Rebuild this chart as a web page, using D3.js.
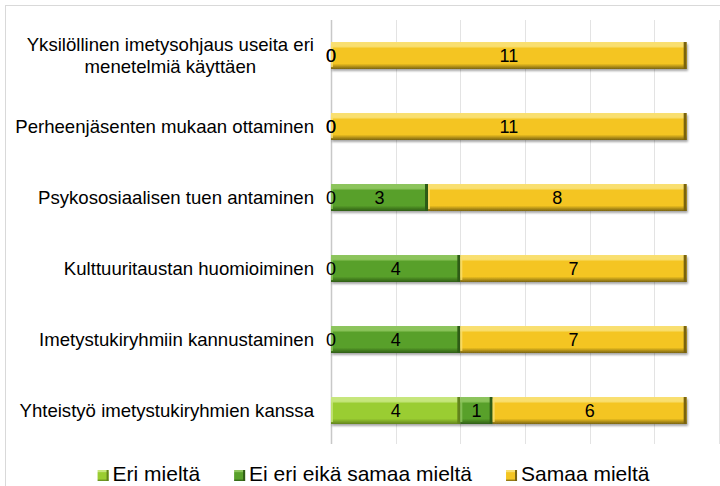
<!DOCTYPE html>
<html>
<head>
<meta charset="utf-8">
<script src="https://cdn.jsdelivr.net/npm/d3@7"></script>
<style>
  body { margin: 0; background: #fff; }
  svg { font-family: "Liberation Sans", Arial, sans-serif; }
</style>
</head>
<body>
<div id="chart"></div>
<script>
const width = 720,
   height = 486,
   margin = {top: 20, right: 1, bottom: 40, left: 331};

const categories = [
   'Yksilöllinen imetysohjaus useita eri\nmenetelmiä käyttäen',
   'Perheenjäsenten mukaan ottaminen',
   'Psykososiaalisen tuen antaminen',
   'Kulttuuritaustan huomioiminen',
   'Imetystukiryhmiin kannustaminen',
   'Yhteistyö imetystukiryhmien kanssa'
];
const seriesNames = ['Eri mieltä', 'Ei eri eikä samaa mieltä', 'Samaa mieltä'];
const eriMielta = [0, 0, 0, 0, 0, 4];
const eiEriEikaSamaa = [0, 0, 3, 4, 4, 1];
const samaaMielta = [11, 11, 8, 7, 7, 6];
const xTicks = [0, 2, 4, 6, 8, 10, 12];

// main, highlight, dark edge
const palette = [
   ['#9acd32', '#c6e67c', '#62841c'],
   ['#58a02a', '#8cc45c', '#2f5c14'],
   ['#f4c521', '#f9df70', '#7a6410']
];

const rows = categories.map((c, i) => ({cat: c, vals: [eriMielta[i], eiEriEikaSamaa[i], samaaMielta[i]]}));

const svg = d3.select('#chart').append('svg')
   .attr('width', width)
   .attr('height', height);

const defs = svg.append('defs');
palette.forEach((p, i) => {
   const g = defs.append('linearGradient')
      .attr('id', 'grad' + i)
      .attr('x1', 0).attr('x2', 0).attr('y1', 0).attr('y2', 1);
   [[0, p[1]], [0.16, p[1]], [0.24, p[0]], [0.8, p[0]], [1, p[2]]].forEach(s => {
      g.append('stop').attr('offset', s[0]).attr('stop-color', s[1]);
   });
});
defs.append('filter').attr('id', 'shadow')
   .attr('x', '-5%').attr('y', '-20%').attr('width', '110%').attr('height', '160%')
   .append('feDropShadow')
   .attr('dx', 1).attr('dy', 2).attr('stdDeviation', 1)
   .attr('flood-color', '#000').attr('flood-opacity', 0.35);

// outer chart border
svg.append('rect')
   .attr('x', 5.5).attr('y', 5.5)
   .attr('width', width + 20).attr('height', height + 20)
   .attr('fill', 'none')
   .attr('stroke', '#d9d9d9');

const x = d3.scaleLinear()
   .domain([0, 12])
   .range([margin.left, width - margin.right]);

const y = d3.scaleBand()
   .domain(categories)
   .range([margin.top, 446])
   .paddingInner(0.62)
   .paddingOuter(0.31);

const plotBottom = 444;

svg.append('g')
   .selectAll('line')
   .data(xTicks)
   .join('line')
   .attr('x1', d => Math.round(x(d)) + 0.5)
   .attr('x2', d => Math.round(x(d)) + 0.5)
   .attr('y1', margin.top)
   .attr('y2', plotBottom)
   .attr('stroke', d => d === 0 ? '#c8c8c8' : '#e3e3e3')
   .attr('stroke-width', d => d === 0 ? 1.5 : 1);

// stacked bars
const rowGroups = svg.append('g')
   .selectAll('g')
   .data(rows)
   .join('g');

rowGroups.each(function(row) {
   const g = d3.select(this);
   let acc = 0;
   row.vals.forEach((v, si) => {
      const x0 = x(acc), x1 = x(acc + v);
      acc += v;
      if (v > 0) {
         const seg = g.append('g').attr('filter', 'url(#shadow)');
         seg.append('rect')
            .attr('x', x0).attr('y', y(row.cat))
            .attr('width', x1 - x0).attr('height', y.bandwidth())
            .attr('fill', `url(#grad${si})`);
         seg.append('rect')
            .attr('x', x0).attr('y', y(row.cat) + 2)
            .attr('width', 2).attr('height', y.bandwidth() - 4)
            .attr('fill', palette[si][1]).attr('opacity', 0.8);
         seg.append('rect')
            .attr('x', x1 - 3).attr('y', y(row.cat))
            .attr('width', 3).attr('height', y.bandwidth())
            .attr('fill', palette[si][2]);
      }
   });
   acc = 0;
   row.vals.forEach((v, si) => {
      const cx = x(acc + v / 2);
      acc += v;
      g.append('text')
         .attr('x', cx)
         .attr('y', y(row.cat) + y.bandwidth() / 2)
         .attr('dy', '0.36em')
         .attr('text-anchor', 'middle')
         .attr('font-size', 18)
         .attr('fill', '#000')
         .text(v);
   });
});

// category labels
const labelRight = 314;
categories.forEach(c => {
   const lines = c.split('\n');
   const cy = y(c) + y.bandwidth() / 2;
   const t = svg.append('text')
      .attr('font-size', 18.6)
      .attr('fill', '#000');
   lines.forEach((ln, i) => {
      t.append('tspan')
         .attr('y', cy + (i - (lines.length - 1) / 2) * 22)
         .attr('dy', '0.36em')
         .text(ln);
   });
   if (lines.length > 1) {
      const w = d3.max(t.selectAll('tspan').nodes(), n => n.getComputedTextLength());
      t.attr('text-anchor', 'middle').selectAll('tspan').attr('x', labelRight - w / 2);
   } else {
      t.attr('text-anchor', 'end').selectAll('tspan').attr('x', labelRight);
   }
});

// legend
const legend = svg.append('g');
let lx = 0;
seriesNames.forEach((name, i) => {
   const item = legend.append('g').attr('transform', `translate(${lx},0)`);
   item.append('rect')
      .attr('x', 0).attr('y', -11)
      .attr('width', 11).attr('height', 11)
      .attr('fill', `url(#grad${i})`);
   item.append('rect')
      .attr('x', 9).attr('y', -11)
      .attr('width', 2).attr('height', 11)
      .attr('fill', palette[i][2]);
   const t = item.append('text')
      .attr('x', 15).attr('y', 0)
      .attr('font-size', 21)
      .attr('fill', '#000')
      .text(name);
   lx += 15 + t.node().getComputedTextLength() + 34;
});
const legendW = lx - 34;
legend.attr('transform', `translate(${373.5 - legendW / 2},481)`);
</script>
</body>
</html>
